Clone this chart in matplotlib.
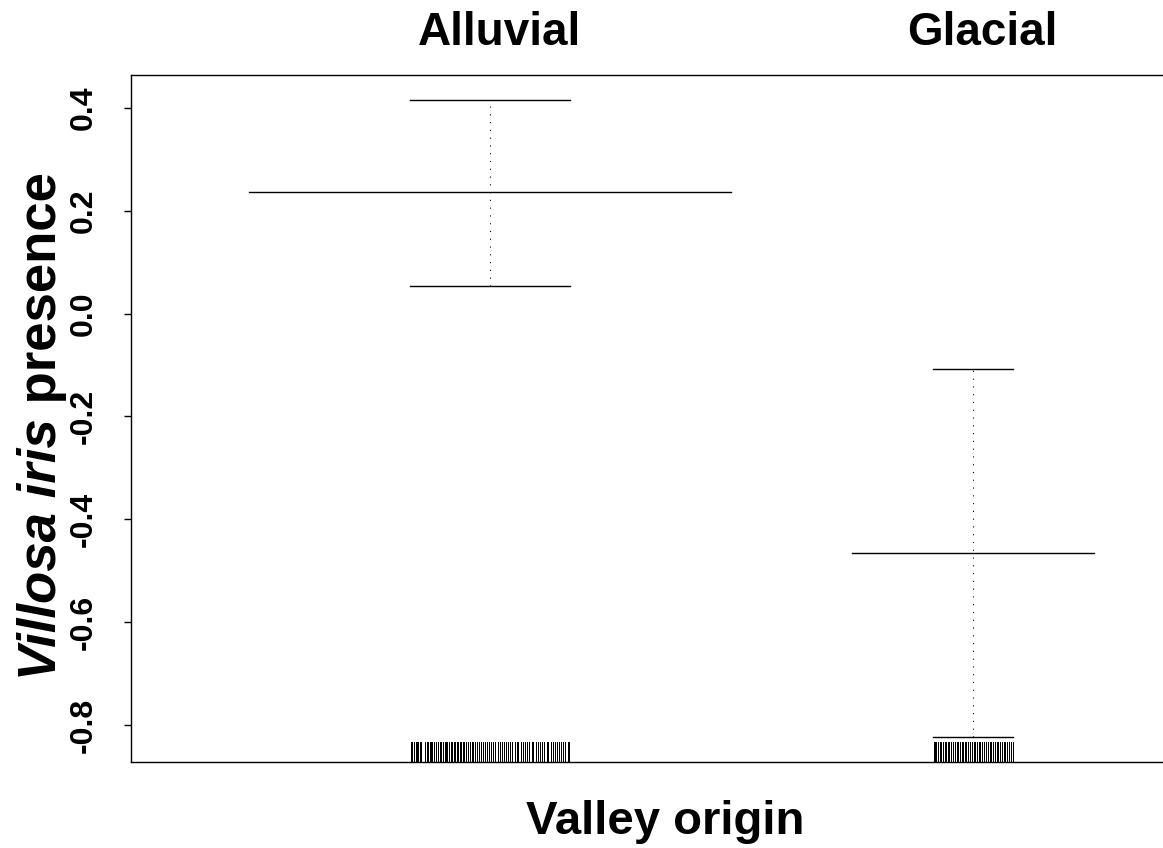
import numpy as np
import matplotlib
matplotlib.use("Agg")
import matplotlib.pyplot as plt
from matplotlib import font_manager

# Datos
niveles = ["Alluvial", "Glacial"]
posiciones = [1, 2]
medias = [0.2366, -0.465]
sup = [0.4156, -0.107]
inf = [0.0537, -0.823]
ancho_media = [0.498, 0.25]
ancho_se = [0.165, 0.083]

rug_alluvial = [0.836, 0.839, 0.843, 0.846, 0.849, 0.851, 0.855, 0.858, 0.866,
                0.869, 0.872, 0.875, 0.878, 0.881, 0.884, 0.888, 0.892, 0.896, 0.899,
                0.903, 0.906, 0.909, 0.912, 0.915, 0.919, 0.922,
                0.925, 0.928, 0.931, 0.934, 0.938, 0.941, 0.944, 0.947, 0.951, 0.955,
                0.958, 0.962, 0.965, 0.968, 0.973, 0.977, 0.981, 0.986, 0.990, 0.994,
                0.998, 1.003, 1.007, 1.011, 1.016, 1.020, 1.025, 1.029, 1.033, 1.038,
                1.042, 1.046, 1.051, 1.055, 1.059, 1.064, 1.068, 1.072, 1.077, 1.081,
                1.086, 1.090, 1.095, 1.099, 1.103, 1.108, 1.112, 1.117, 1.121, 1.126,
                1.130, 1.134, 1.139, 1.143, 1.147, 1.152, 1.156, 1.161, 1.164]
rug_glacial = [1.918, 1.921, 1.924, 1.927, 1.931, 1.934, 1.937, 1.941, 1.944, 1.948,
               1.951, 1.955, 1.958, 1.962, 1.966, 1.969, 1.973, 1.976, 1.979, 1.983,
               1.986, 1.990, 1.994, 1.997, 2.001, 2.004, 2.008, 2.012, 2.015, 2.019,
               2.023, 2.026, 2.030, 2.034, 2.037, 2.041, 2.045, 2.049, 2.052, 2.056,
               2.060, 2.063, 2.067, 2.071, 2.075, 2.079, 2.082]

yticks = [-0.8, -0.6, -0.4, -0.2, 0.0, 0.2, 0.4]

plt.rcParams['font.family'] = ['Liberation Sans', 'DejaVu Sans']
plt.rcParams['font.weight'] = 'bold'

# Fuente estrecha para los ticks si existe
try:
    font_manager.findfont(font_manager.FontProperties(family='Liberation Sans Narrow',
                                                      weight='bold'),
                          fallback_to_default=False)
    fam_ticks = ['Liberation Sans Narrow', 'Liberation Sans']
    tam_ticks = 27
except Exception:
    fam_ticks = ['Liberation Sans', 'DejaVu Sans']
    tam_ticks = 23

fig = plt.figure(figsize=(11.63, 8.48), dpi=100)
ax = fig.add_axes([131 / 1163, 1 - 762 / 848, 1 - 131 / 1163, 687 / 848])

# Lineas de media, errores y punteado
for i in range(len(niveles)):
    x = posiciones[i]
    ax.plot([x - ancho_media[i], x + ancho_media[i]], [medias[i], medias[i]],
            color='black', lw=1.0)
    ax.plot([x - ancho_se[i], x + ancho_se[i]], [sup[i], sup[i]], color='black', lw=1.0)
    ax.plot([x - ancho_se[i], x + ancho_se[i]], [inf[i], inf[i]], color='black', lw=1.0)
    ax.plot([x, x], [inf[i], sup[i]], color='black', lw=0.8, linestyle=(0, (1, 6)))

# Rug
trans = ax.get_xaxis_transform()
for r in [rug_alluvial, rug_glacial]:
    ax.vlines(r, 0, 20 / 687, transform=trans, color='black', lw=0.72, antialiased=False)

ax.set_xlim(0.257, 2.393)
ax.set_ylim(-0.872, 0.464)
ax.set_xticks([])
ax.set_yticks(yticks)
ax.set_yticklabels([f"{v:.1f}" for v in yticks], rotation=90, va='center',
                   fontsize=tam_ticks, fontweight='bold', family=fam_ticks)
ax.tick_params(axis='y', length=5, width=1.0, pad=18)
ax.spines['right'].set_visible(False)
for s in ['left', 'top', 'bottom']:
    ax.spines[s].set_linewidth(1.0)

# Nombres de niveles arriba
for i in range(len(niveles)):
    ax.text(posiciones[i] + 0.02, 1.0 + 42 / 687, niveles[i], transform=trans,
            ha='center', va='center', fontsize=33, fontweight='bold')

fig.text(665 / 1163, 1 - 822 / 848, "Valley origin", ha='center', va='center',
         fontsize=34, fontweight='bold')

# Etiqueta y con parte en cursiva
xb = 56 / 1163
t1 = fig.text(xb, 1 - 680 / 848, "Villosa iris", rotation=90, rotation_mode='anchor',
              ha='left', va='baseline', fontsize=38, fontweight='bold', style='italic')
fig.canvas.draw()
bb = t1.get_window_extent()
ytop = bb.y1 / fig.bbox.height
fig.text(xb, ytop, " presence", rotation=90, rotation_mode='anchor',
         ha='left', va='baseline', fontsize=38, fontweight='bold')

fig.savefig("out.png", dpi=100)
